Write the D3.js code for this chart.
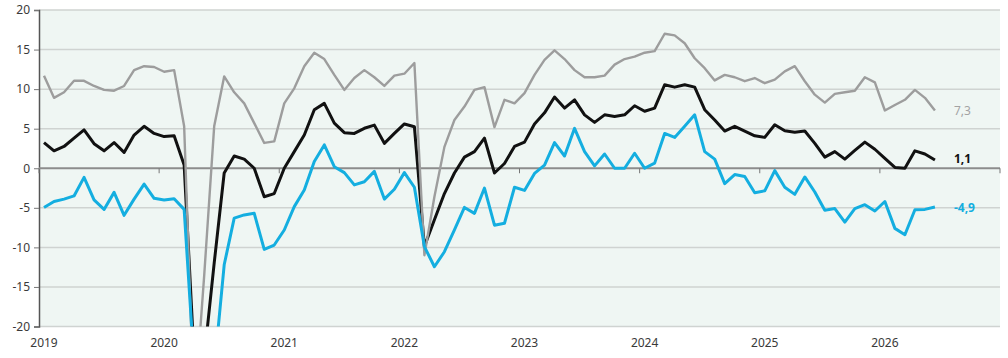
<!DOCTYPE html>
<html>
<head>
<meta charset="utf-8">
<script src="https://cdn.jsdelivr.net/npm/d3@7"></script>
<style>
  body { margin: 0; background: #fff; }
  svg text { font-family: "Noto Sans", "Open Sans", sans-serif; }
</style>
</head>
<body>
<script>
// monthly series, Jan 2019 .. Jun 2026
var years = ["2019", "2020", "2021", "2022", "2023", "2024", "2025", "2026"];
var yTicks = [-20, -15, -10, -5, 0, 5, 10, 15, 20];

var grey = [11.7, 8.9, 9.6, 11.05, 11.05, 10.4, 9.9, 9.8, 10.4, 12.4, 12.9, 12.8,
  12.2, 12.4, 5.3, -31, -13.6, 5.3, 11.6, 9.6, 8.2, 5.7, 3.2, 3.4,
  8.2, 10.1, 12.9, 14.6, 13.8, 11.8, 9.9, 11.4, 12.4, 11.5, 10.4, 11.7,
  11.95, 13.3, -11.0, -3.6, 2.7, 6.1, 7.8, 9.9, 10.25, 5.2, 8.65, 8.2,
  9.5, 11.8, 13.7, 14.9, 13.8, 12.4, 11.5, 11.5, 11.7, 13.1, 13.8, 14.1,
  14.6, 14.8, 17.0, 16.8, 15.8, 13.9, 12.65, 11.1, 11.8, 11.5, 11.0, 11.4,
  10.75, 11.2, 12.25, 12.9, 11.0, 9.3, 8.3, 9.4, 9.6, 9.8, 11.5, 10.85,
  7.3, 8.0, 8.65, 9.9, 8.9, 7.3];

var black = [3.25, 2.2, 2.75, 3.8, 4.85, 3.1, 2.2, 3.25, 2.0, 4.2, 5.3, 4.4,
  4.0, 4.1, 0.4, -24, -24, -12, -0.6, 1.55, 1.15, 0, -3.6, -3.2,
  0, 2.1, 4.2, 7.4, 8.2, 5.7, 4.5, 4.4, 5.05, 5.45, 3.15, 4.4,
  5.6, 5.25, -9.9, -6.5, -3.2, -0.6, 1.4, 2.1, 3.8, -0.6, 0.6, 2.75,
  3.3, 5.6, 7.0, 9.0, 7.6, 8.65, 6.75, 5.8, 6.75, 6.55, 6.75, 7.9,
  7.2, 7.6, 10.55, 10.25, 10.55, 10.25, 7.4, 6.1, 4.7, 5.3, 4.7, 4.1,
  3.9, 5.5, 4.75, 4.55, 4.7, 3.15, 1.4, 2.1, 1.15, 2.25, 3.3, 2.4,
  1.25, 0.1, 0, 2.2, 1.8, 1.05];

var cyan = [-4.95, -4.2, -3.9, -3.5, -1.15, -4.0, -5.2, -3.05, -5.95, -3.9, -2.0, -3.8,
  -4.0, -3.85, -5.2, -25, -32, -25.5, -12.2, -6.3, -5.9, -5.7, -10.25, -9.7,
  -7.8, -4.85, -2.75, 0.85, 2.95, 0.2, -0.55, -2.1, -1.7, -0.4, -3.9, -2.65,
  -0.55, -2.4, -9.9, -12.45, -10.55, -7.8, -4.95, -5.7, -2.5, -7.2, -6.95, -2.4,
  -2.8, -0.65, 0.4, 3.25, 1.55, 5.05, 2.1, 0.3, 1.8, 0, 0, 1.9,
  0, 0.65, 4.4, 3.9, 5.3, 6.75, 2.1, 1.15, -1.95, -0.8, -1.05, -3.1,
  -2.85, -0.3, -2.4, -3.3, -1.1, -3.0, -5.3, -5.1, -6.8, -5.1, -4.6, -5.4,
  -4.2, -7.6, -8.4, -5.25, -5.2, -4.9];

var endLabels = ["7,3", "1,1", "-4,9"];

var w = 1008, h = 358;
var plotL = 39, plotR = 1000, plotT = 10, plotB = 326.5;

var svg = d3.select("body").append("svg").attr("width", w).attr("height", h);

var x = d3.scaleLinear().domain([0, years.length * 12]).range([plotL, plotR]);
var y = d3.scaleLinear().domain([-20, 20]).range([plotB, plotT]);

svg.append("rect")
  .attr("x", plotL).attr("y", plotT)
  .attr("width", plotR - plotL).attr("height", plotB - plotT)
  .attr("fill", "#eff6f3");

// gridlines
svg.append("g").selectAll("line")
  .data(yTicks.filter(function(d) { return d !== 0; }))
  .enter().append("line")
    .attr("x1", plotL).attr("x2", plotR)
    .attr("y1", function(d) { return y(d); })
    .attr("y2", function(d) { return y(d); })
    .attr("stroke", "#cfd3d1").attr("stroke-width", 1.5);

// y axis
var yAxis = svg.append("g")
  .attr("transform", "translate(" + plotL + ",0)")
  .call(d3.axisLeft(y).tickValues(yTicks).tickSize(5).tickPadding(4)
    .tickFormat(function(d) { return d < 0 ? "-" + Math.abs(d) : d; }));
yAxis.select(".domain").attr("stroke", "#555").attr("stroke-width", 1.5);
yAxis.selectAll(".tick line").attr("stroke", "#777");
yAxis.selectAll("text").attr("fill", "#3a3a3a").style("font-size", "12px");

// zero line with year ticks
svg.append("line")
  .attr("x1", plotL).attr("x2", plotR)
  .attr("y1", y(0)).attr("y2", y(0))
  .attr("stroke", "#8c8c8c").attr("stroke-width", 2);

svg.append("g").selectAll("line")
  .data(d3.range(years.length + 1))
  .enter().append("line")
    .attr("x1", function(d) { return x(d * 12); })
    .attr("x2", function(d) { return x(d * 12); })
    .attr("y1", y(0)).attr("y2", y(0) + 5)
    .attr("stroke", "#777").attr("stroke-width", 1);

// year labels, centred on January
svg.append("g").selectAll("text")
  .data(years)
  .enter().append("text")
    .attr("x", function(d, i) { return x(i * 12 + 0.5); })
    .attr("y", 347)
    .attr("text-anchor", "middle")
    .attr("fill", "#3a3a3a")
    .style("font-size", "12px")
    .text(function(d) { return d; });

svg.append("clipPath").attr("id", "plot")
  .append("rect")
    .attr("x", plotL).attr("y", plotT)
    .attr("width", plotR - plotL).attr("height", plotB - plotT);

var line = d3.line()
  .x(function(d, i) { return x(i + 0.5); })
  .y(function(d) { return y(d); });

var series = [
  { values: black, color: "#111111", width: 3 },
  { values: grey, color: "#9d9d9d", width: 2.4 },
  { values: cyan, color: "#14aee0", width: 3 }
];

svg.append("g").attr("clip-path", "url(#plot)")
  .selectAll("path")
  .data(series)
  .enter().append("path")
    .attr("d", function(d) { return line(d.values); })
    .attr("fill", "none")
    .attr("stroke", function(d) { return d.color; })
    .attr("stroke-width", function(d) { return d.width; })
    .attr("stroke-linejoin", "round");

// end value labels
var labelData = [
  { text: endLabels[0], v: grey[grey.length - 1], color: "#a3a3a3", weight: "normal", dy: 1 },
  { text: endLabels[1], v: black[black.length - 1], color: "#111", weight: "bold", dy: -1 },
  { text: endLabels[2], v: cyan[cyan.length - 1], color: "#14aee0", weight: "bold", dy: 1 }
];
svg.append("g").selectAll("text")
  .data(labelData)
  .enter().append("text")
    .attr("x", x(grey.length) + 14)
    .attr("y", function(d) { return y(d.v) + 4 + d.dy; })
    .attr("fill", function(d) { return d.color; })
    .attr("font-weight", function(d) { return d.weight; })
    .style("font-size", "12px")
    .text(function(d) { return d.text; });
</script>
</body>
</html>
